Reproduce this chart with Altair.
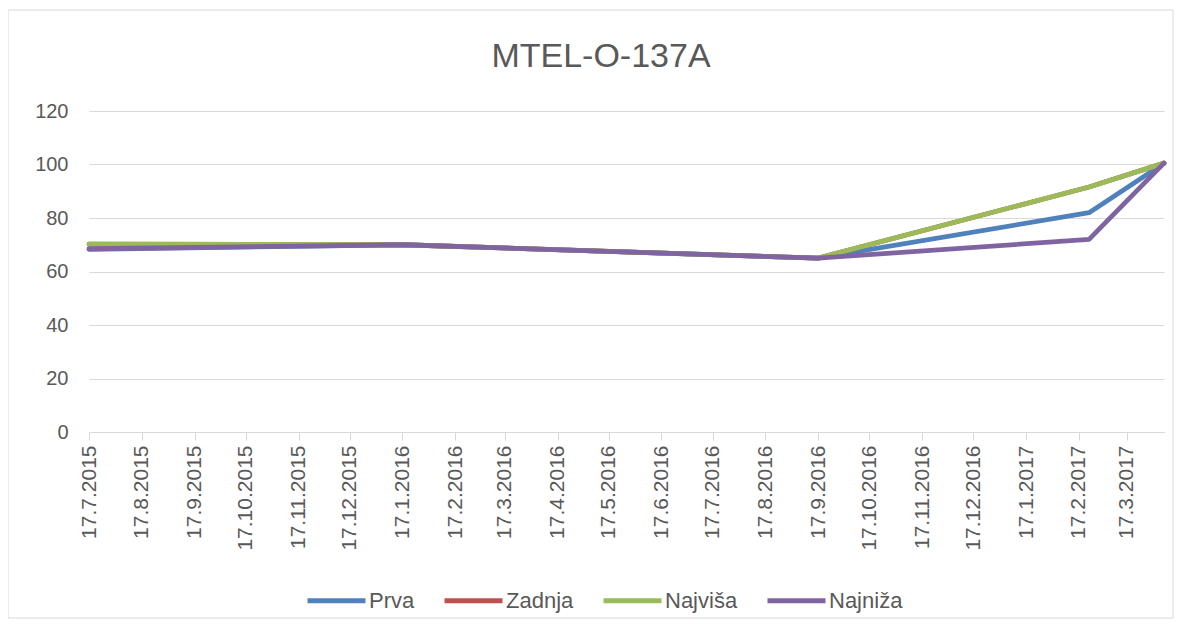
import altair as alt
import pandas as pd

# ---- data ----
dates = ["2015-07-17", "2016-01-17", "2016-09-17", "2017-02-23", "2017-04-08"]
prva = [68.3, 70, 65, 82, 100.5]
zadnja = [70.2, 70, 65, 91.6, 100.5]
najvisa = [70.2, 70, 65, 91.6, 100.5]
najniza = [68.5, 70, 65, 72, 100.5]

series_names = ["Prva", "Zadnja", "Najviša", "Najniža"]
series_colors = ["#4F81BD", "#C0504D", "#9BBB59", "#8064A2"]

tick_dates = [
    (2015, 7), (2015, 8), (2015, 9), (2015, 10), (2015, 11), (2015, 12),
    (2016, 1), (2016, 2), (2016, 3), (2016, 4), (2016, 5), (2016, 6),
    (2016, 7), (2016, 8), (2016, 9), (2016, 10), (2016, 11), (2016, 12),
    (2017, 1), (2017, 2), (2017, 3),
]
y_ticks = [0, 20, 40, 60, 80, 100, 120]
chart_title = "MTEL-O-137A"

rows = []
for name, vals in zip(series_names, [prva, zadnja, najvisa, najniza]):
    for d, v in zip(dates, vals):
        rows.append({"date": d, "value": v, "series": name})
df = pd.DataFrame(rows)

W, H = 1075, 321
PAD = {"left": 81, "top": 103, "right": 10, "bottom": 187}

x_values = [alt.DateTime(year=y, month=m, date=17, utc=True) for y, m in tick_dates]

lines = alt.Chart(df).mark_line(strokeWidth=4.8, strokeCap="round", strokeJoin="round").encode(
    x=alt.X(
        "date:T",
        scale=alt.Scale(
            type="utc",
            domain=[
                alt.DateTime(year=2015, month=7, date=17, utc=True),
                alt.DateTime(year=2017, month=4, date=8, utc=True),
            ],
            nice=False,
        ),
        axis=alt.Axis(
            values=x_values,
            labelExpr="utcFormat(datum.value, '%-d.%-m.%Y')",
            title=None,
            grid=False,
            domainColor="#d9d9d9",
            domainWidth=1,
            tickColor="#d9d9d9",
            tickSize=8,
            labelAngle=270,
            labelAlign="right",
            labelBaseline="middle",
            labelFont="Liberation Sans",
            labelFontSize=21,
            labelColor="#595959",
            labelPadding=5,
            labelOverlap=False,
            labelFlush=False,
        ),
    ),
    y=alt.Y(
        "value:Q",
        scale=alt.Scale(domain=[0, 120], nice=False),
        axis=alt.Axis(
            values=y_ticks,
            title=None,
            domain=False,
            ticks=False,
            gridColor="#d9d9d9",
            gridWidth=1,
            labelFont="Liberation Sans",
            labelFontSize=20,
            labelColor="#595959",
            labelPadding=21,
        ),
    ),
    stroke=alt.Stroke(
        "series:N",
        scale=alt.Scale(domain=series_names, range=series_colors),
        legend=alt.Legend(
            title=None,
            orient="none",
            direction="horizontal",
            legendX=216,
            legendY=458,
            padding=0,
            symbolType="stroke",
            symbolSize=3364,
            symbolStrokeWidth=5,
            labelFont="Liberation Sans",
            labelFontSize=22,
            labelColor="#595959",
            labelOffset=1,
            columnPadding=19,
        ),
    ),
    order=alt.Order("series_order:Q"),
).transform_calculate(
    series_order="indexof(['Prva','Zadnja','Najviša','Najniža'], datum.series)"
)

frame = alt.Chart(pd.DataFrame({"a": [0]})).mark_rect(
    fill="transparent", stroke="#d9d9d9", strokeWidth=1, clip=False
).encode(
    x=alt.value(-81), x2=alt.value(1084), y=alt.value(-101), y2=alt.value(507)
)

title_text = alt.Chart(pd.DataFrame({"t": [chart_title]})).mark_text(
    font="Liberation Sans",
    fontSize=34,
    color="#595959",
    align="center",
    baseline="middle",
    clip=False,
).encode(
    text="t:N",
    x=alt.value(512),
    y=alt.value(-54),
)

chart = alt.layer(frame, title_text, lines).properties(
    width=W,
    height=H,
    padding=PAD,
    autosize=alt.AutoSizeParams(type="none"),
    view=alt.ViewBackground(strokeWidth=0, stroke="transparent"),
).configure_view(stroke="transparent", strokeWidth=0).configure(background="white")

chart.save("out.html", embed_options={"renderer": "svg", "actions": False})
